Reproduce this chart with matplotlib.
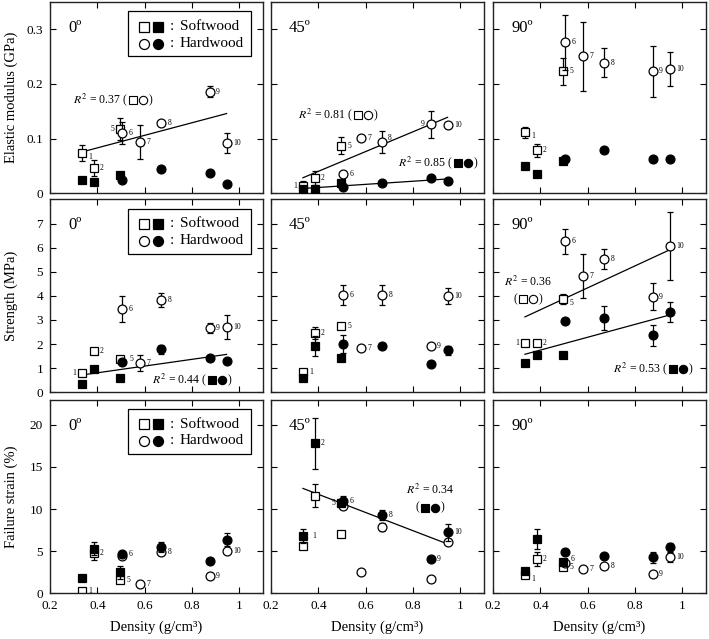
import numpy as np
import matplotlib
matplotlib.use("Agg")
import matplotlib.pyplot as plt
from matplotlib.patches import Rectangle
from matplotlib.lines import Line2D
from matplotlib.offsetbox import TextArea, DrawingArea, HPacker, VPacker, AnnotationBbox

plt.rcParams['font.family'] = ['Liberation Serif', 'DejaVu Serif']
plt.rcParams['mathtext.fontset'] = 'stix'

# ---------------- data ----------------
nan = np.nan
soft_ids = ['1', '2', '5']
hard_ids = ['6', '7', '8', '9', '10']
soft_density = [0.335, 0.385, 0.497]
hard_density = [0.505, 0.580, 0.670, 0.876, 0.946]

angle_labels = ['0º', '45º', '90º']
prop_labels = ['Elastic modulus (GPa)', 'Strength (MPa)', 'Failure strain (%)']
x_ticks = [0.2, 0.4, 0.6, 0.8, 1.0]
x_tick_labels = ['0.2', '0.4', '0.6', '0.8', '1']
E_ticks = [0, 0.1, 0.2, 0.3]
E_tick_labels = ['0', '0.1', '0.2', '0.3']
S_ticks = [0, 1, 2, 3, 4, 5, 6, 7]
S_tick_labels = ['0', '1', '2', '3', '4', '5', '6', '7']
F_ticks = [0, 5, 10, 15, 20]
F_tick_labels = ['0', '5', '10', '15', '20']

# Elastic modulus (GPa)
E0_soft_open = [0.074, 0.046, 0.118]
E0_soft_open_err = [0.015, 0.015, 0.020]
E0_hard_open = [0.110, 0.094, 0.128, 0.186, 0.092]
E0_hard_open_err = [0.020, 0.031, 0.0, 0.010, 0.018]
E0_soft_fill = [0.024, 0.020, 0.033]
E0_soft_fill_err = [0, 0, 0]
E0_hard_fill = [0.024, nan, 0.045, 0.038, 0.017]
E0_hard_fill_err = [0, 0, 0, 0, 0]

E45_soft_open = [0.014, 0.028, 0.087]
E45_soft_open_err = [0.008, 0.013, 0.016]
E45_hard_open = [0.035, 0.101, 0.094, 0.126, 0.125]
E45_hard_open_err = [0, 0, 0.020, 0.024, 0]
E45_soft_fill = [0.008, 0.008, 0.018]
E45_soft_fill_err = [0, 0, 0]
E45_hard_fill = [0.012, nan, 0.019, 0.028, 0.022]
E45_hard_fill_err = [0, 0, 0, 0.004, 0]

E90_soft_open = [0.112, 0.079, 0.223]
E90_soft_open_err = [0.010, 0.012, 0.025]
E90_hard_open = [0.276, 0.251, 0.239, 0.223, 0.227]
E90_hard_open_err = [0.050, 0.063, 0.027, 0.046, 0.031]
E90_soft_fill = [0.050, 0.036, 0.059]
E90_soft_fill_err = [0, 0, 0]
E90_hard_fill = [0.062, nan, 0.079, 0.063, 0.063]
E90_hard_fill_err = [0, 0, 0, 0, 0]

# Strength (MPa)
S0_soft_open = [0.79, 1.71, 1.39]
S0_soft_open_err = [0, 0, 0]
S0_hard_open = [3.47, 1.22, 3.81, 2.68, 2.71]
S0_hard_open_err = [0.54, 0.32, 0.29, 0.20, 0.50]
S0_soft_fill = [0.33, 0.97, 0.60]
S0_soft_fill_err = [0, 0, 0]
S0_hard_fill = [1.25, nan, 1.78, 1.42, 1.29]
S0_hard_fill_err = [0, 0, 0.20, 0, 0]

S45_soft_open = [0.86, 2.46, 2.74]
S45_soft_open_err = [0, 0.23, 0]
S45_hard_open = [4.03, 1.83, 4.03, 1.93, 3.99]
S45_hard_open_err = [0.42, 0, 0.42, 0, 0.33]
S45_soft_fill = [0.58, 1.93, 1.44]
S45_soft_fill_err = [0, 0.42, 0]
S45_hard_fill = [2.00, nan, 1.93, 1.18, 1.74]
S45_hard_fill_err = [0.39, 0, 0, 0, 0.20]

S90_soft_open = [2.06, 2.06, 3.86]
S90_soft_open_err = [0, 0, 0.20]
S90_hard_open = [6.26, 4.83, 5.53, 3.97, 6.08]
S90_hard_open_err = [0.53, 0.90, 0.40, 0.55, 1.40]
S90_soft_fill = [1.21, 1.54, 1.53]
S90_soft_fill_err = [0, 0, 0]
S90_hard_fill = [2.96, nan, 3.10, 2.36, 3.33]
S90_hard_fill_err = [0, 0, 0.50, 0.42, 0.43]

# Failure strain (%)
F0_soft_open = [0.28, 4.78, 1.60]
F0_soft_open_err = [0, 0.80, 0]
F0_hard_open = [4.46, 1.08, 4.94, 2.07, 4.98]
F0_hard_open_err = [0, 0, 0, 0, 0]
F0_soft_fill = [1.80, 5.30, 2.50]
F0_soft_fill_err = [0, 0.76, 0.76]
F0_hard_fill = [4.66, nan, 5.54, 3.86, 6.37]
F0_hard_fill_err = [0, 0, 0.60, 0, 0.76]

F45_soft_open = [5.67, 11.6, 7.07]
F45_soft_open_err = [0, 1.4, 0]
F45_hard_open = [10.4, 2.50, 7.86, 1.71, 6.03]
F45_hard_open_err = [0, 0, 0.5, 0, 0]
F45_soft_fill = [6.83, 17.8, 10.7]
F45_soft_fill_err = [0.83, 3.0, 0]
F45_hard_fill = [11.0, nan, 9.33, 4.05, 7.26]
F45_hard_fill_err = [0.5, 0, 0.6, 0, 1.0]

F90_soft_open = [2.18, 4.05, 3.10]
F90_soft_open_err = [0, 0.80, 0]
F90_hard_open = [3.57, 2.86, 3.25, 2.30, 4.25]
F90_hard_open_err = [0, 0, 0, 0, 0.5]
F90_soft_fill = [2.66, 6.43, 3.77]
F90_soft_fill_err = [0, 1.2, 0]
F90_hard_fill = [4.88, nan, 4.48, 4.25, 5.44]
F90_hard_fill_err = [0, 0, 0, 0.6, 0.5]

# R^2 texts shown on the chart
R2_E0_open = '0.37'
R2_E45_open = '0.81'
R2_E45_fill = '0.85'
R2_S0_fill = '0.44'
R2_S90_open = '0.36'
R2_S90_fill = '0.53'
R2_F45_fill = '0.34'

# ---------------- layout ----------------
W, H = 709, 639
fig = plt.figure(figsize=(W / 100, H / 100), dpi=100)
col_left = [50, 271, 493]
col_w = 213
row_top = [2, 199.5, 399.5]
row_bot = [193.3, 392.3, 593.3]

ylims = [(0, 0.35), (0, 8), (0, 23)]
yticks = [(E_ticks, E_tick_labels), (S_ticks, S_tick_labels), (F_ticks, F_tick_labels)]

OFFS = {'r': (4.5, 0, 'left'), 'l': (-4.5, 0, 'right'),
        'rb': (4.5, -3, 'left'), 'ru': (4.0, 3, 'left'), 'r2': (7, 0, 'left')}

all_r = {k: ('o', 'r') for k in soft_ids + hard_ids}


def lab(base, **over):
    d = dict(base)
    d.update(over)
    return d


panels = [
    dict(r=0, c=0, so=E0_soft_open, soe=E0_soft_open_err, ho=E0_hard_open, hoe=E0_hard_open_err,
         sf=E0_soft_fill, sfe=E0_soft_fill_err, hf=E0_hard_fill, hfe=E0_hard_fill_err,
         fits=[('open', R2_E0_open, (0.108, 0.488), False)],
         labels=lab(all_r, **{'1': ('o', 'rb'), '5': ('o', 'l')}), legend=True),
    dict(r=0, c=1, so=E45_soft_open, soe=E45_soft_open_err, ho=E45_hard_open, hoe=E45_hard_open_err,
         sf=E45_soft_fill, sfe=E45_soft_fill_err, hf=E45_hard_fill, hfe=E45_hard_fill_err,
         fits=[('open', R2_E45_open, (0.127, 0.409), False), ('fill', R2_E45_fill, (0.596, 0.158), False)],
         labels=lab(all_r, **{'1': ('o', 'l'), '8': ('o', 'ru'), '9': ('o', 'l')}), legend=False),
    dict(r=0, c=2, so=E90_soft_open, soe=E90_soft_open_err, ho=E90_hard_open, hoe=E90_hard_open_err,
         sf=E90_soft_fill, sfe=E90_soft_fill_err, hf=E90_hard_fill, hfe=E90_hard_fill_err,
         fits=[], labels=lab(all_r, **{'1': ('o', 'rb')}), legend=False),
    dict(r=1, c=0, so=S0_soft_open, soe=S0_soft_open_err, ho=S0_hard_open, hoe=S0_hard_open_err,
         sf=S0_soft_fill, sfe=S0_soft_fill_err, hf=S0_hard_fill, hfe=S0_hard_fill_err,
         fits=[('fill', R2_S0_fill, (0.479, 0.064), False)],
         labels=lab(all_r, **{'1': ('o', 'l'), '5': ('o', 'r2')}), legend=True),
    dict(r=1, c=1, so=S45_soft_open, soe=S45_soft_open_err, ho=S45_hard_open, hoe=S45_hard_open_err,
         sf=S45_soft_fill, sfe=S45_soft_fill_err, hf=S45_hard_fill, hfe=S45_hard_fill_err,
         fits=[], labels=all_r, legend=False),
    dict(r=1, c=2, so=S90_soft_open, soe=S90_soft_open_err, ho=S90_hard_open, hoe=S90_hard_open_err,
         sf=S90_soft_fill, sfe=S90_soft_fill_err, hf=S90_hard_fill, hfe=S90_hard_fill_err,
         fits=[('open', R2_S90_open, (0.163, 0.53), True), ('fill', R2_S90_fill, (0.563, 0.121), False)],
         labels=lab(all_r, **{'1': ('o', 'l'), '5': ('o', 'rb')}), legend=False),
    dict(r=2, c=0, so=F0_soft_open, soe=F0_soft_open_err, ho=F0_hard_open, hoe=F0_hard_open_err,
         sf=F0_soft_fill, sfe=F0_soft_fill_err, hf=F0_hard_fill, hfe=F0_hard_fill_err,
         fits=[], labels=lab(all_r, **{'6': ('f', 'r')}), legend=True),
    dict(r=2, c=1, so=F45_soft_open, soe=F45_soft_open_err, ho=F45_hard_open, hoe=F45_hard_open_err,
         sf=F45_soft_fill, sfe=F45_soft_fill_err, hf=F45_hard_fill, hfe=F45_hard_fill_err,
         fits=[('fill', R2_F45_fill, (0.746, 0.49), True)],
         labels={'1': ('f', 'r2'), '2': ('f', 'r'), '5': ('f', 'l'), '6': ('f', 'r'),
                 '8': ('f', 'r'), '9': ('f', 'r'), '10': ('f', 'r')}, legend=False),
    dict(r=2, c=2, so=F90_soft_open, soe=F90_soft_open_err, ho=F90_hard_open, hoe=F90_hard_open_err,
         sf=F90_soft_fill, sfe=F90_soft_fill_err, hf=F90_hard_fill, hfe=F90_hard_fill_err,
         fits=[], labels=lab(all_r, **{'1': ('o', 'rb'), '6': ('o', 'ru')}), legend=False),
]


def draw_legend(ax, h):
    fx = lambda px: px / col_w
    fy = lambda py: 1 - py / h
    ax.add_patch(Rectangle((fx(78), fy(54)), fx(201) - fx(78), (54 - 9) / h,
                           transform=ax.transAxes, facecolor='white', edgecolor='black',
                           lw=0.9, zorder=10))
    for ry, m, text in [(24.5, 's', 'Softwood'), (41.5, 'o', 'Hardwood')]:
        ms = 6.5 if m == 's' else 7.2
        ax.plot([fx(94)], [fy(ry)], marker=m, ms=ms, mfc='white', mec='black', mew=0.9,
                transform=ax.transAxes, zorder=11, clip_on=False)
        ax.plot([fx(108)], [fy(ry)], marker=m, ms=ms, mfc='black', mec='black', mew=0.9,
                transform=ax.transAxes, zorder=11, clip_on=False)
        ax.text(fx(122), fy(ry), ':', transform=ax.transAxes, fontsize=11,
                ha='center', va='center', zorder=11)
        ax.text(fx(130), fy(ry), text, transform=ax.transAxes, fontsize=11,
                ha='left', va='center', zorder=11)


def symbol_area(kind):
    fc = 'white' if kind == 'open' else 'black'
    da = DrawingArea(14, 7, 0, 0)
    for xi, m, ms in [(3.4, 's', 5.2), (10.4, 'o', 6.0)]:
        da.add_artist(Line2D([xi], [3.5], marker=m, ms=ms, mfc=fc, mec='black',
                             mew=0.8, linestyle='none'))
    return da


def r2_box(kind, r2, two):
    tp = dict(fontsize=8.5)
    if two:
        line2 = HPacker(children=[TextArea('(', textprops=tp), symbol_area(kind),
                                  TextArea(')', textprops=tp)], align='center', pad=0, sep=0.5)
        return VPacker(children=[TextArea(f'$R^2$ = {r2}', textprops=tp), line2],
                       align='center', pad=0, sep=3)
    return HPacker(children=[TextArea(f'$R^2$ = {r2} (', textprops=tp), symbol_area(kind),
                             TextArea(')', textprops=tp)], align='center', pad=0, sep=0.5)


for p in panels:
    r, c = p['r'], p['c']
    top, bot = row_top[r], row_bot[r]
    h = bot - top
    ax = fig.add_axes([col_left[c] / W, 1 - bot / H, col_w / W, h / H])
    ax.set_xlim(0.2, 1.1)
    ax.set_ylim(*ylims[r])
    ax.set_xticks(x_ticks)
    ax.set_yticks(yticks[r][0])
    if r == 2:
        ax.set_xticklabels(x_tick_labels)
        ax.set_xlabel('Density (g/cm³)', fontsize=10.5)
        ax.xaxis.set_label_coords(0.5, -0.14)
    else:
        ax.set_xticklabels([])
    if c == 0:
        ax.set_yticklabels(yticks[r][1])
        ax.set_ylabel(prop_labels[r], fontsize=10.5)
        ax.yaxis.set_label_coords(-32 / col_w, 0.5)
    else:
        ax.set_yticklabels([])
    ax.tick_params(direction='in', top=True, right=True, length=4, width=0.8,
                   labelsize=9.5, pad=5)
    for s in ax.spines.values():
        s.set_linewidth(1.0)
        s.set_color('#222222')

    series = [
        (soft_density, p['so'], p['soe'], 's', 'white'),
        (hard_density, p['ho'], p['hoe'], 'o', 'white'),
        (soft_density, p['sf'], p['sfe'], 's', 'black'),
        (hard_density, p['hf'], p['hfe'], 'o', 'black'),
    ]
    for i, (x, y, e, m, fc) in enumerate(series):
        x = np.asarray(x, float)
        y = np.asarray(y, float)
        e = np.asarray(e, float)
        mask = (e > 0) & ~np.isnan(y)
        if mask.any():
            ax.errorbar(x[mask], y[mask], yerr=e[mask], fmt='none', ecolor='black',
                        elinewidth=0.9, capsize=2.5, capthick=0.9, zorder=2 + i)
        ax.plot(x, y, linestyle='none', marker=m, ms=5.8 if m == 's' else 6.4,
                mfc=fc, mec='black', mew=0.9, zorder=2.5 + i)

    for kind, r2, (tx, ty), two in p['fits']:
        xs = np.asarray(soft_density + hard_density, float)
        if kind == 'open':
            ys = np.asarray(list(p['so']) + list(p['ho']), float)
        else:
            ys = np.asarray(list(p['sf']) + list(p['hf']), float)
        ok = ~np.isnan(ys)
        k, b0 = np.polyfit(xs[ok], ys[ok], 1)
        xx = np.array([xs[ok].min(), xs[ok].max()])
        ax.plot(xx, k * xx + b0, color='black', lw=0.9, zorder=1.5)
        box = r2_box(kind, r2, two)
        ab = AnnotationBbox(box, (tx, ty), xycoords='axes fraction',
                            box_alignment=(0.5, 0.5) if two else (0.0, 0.5),
                            frameon=False, pad=0, annotation_clip=False, zorder=9)
        ax.add_artist(ab)

    for pid, (ser, side) in p['labels'].items():
        if pid in soft_ids:
            i = soft_ids.index(pid)
            x = soft_density[i]
            y = (p['so'] if ser == 'o' else p['sf'])[i]
        else:
            i = hard_ids.index(pid)
            x = hard_density[i]
            y = (p['ho'] if ser == 'o' else p['hf'])[i]
        if np.isnan(y):
            continue
        dx, dy, ha = OFFS[side]
        ax.annotate(pid, (x, y), xytext=(dx, dy), textcoords='offset points',
                    fontsize=5.5, ha=ha, va='center', zorder=12)

    ax.text(18 / col_w, 1 - 26 / h, angle_labels[c], transform=ax.transAxes,
            fontsize=12, ha='left', va='center')

    if p['legend']:
        draw_legend(ax, h)

fig.savefig('out.png', dpi=100)
